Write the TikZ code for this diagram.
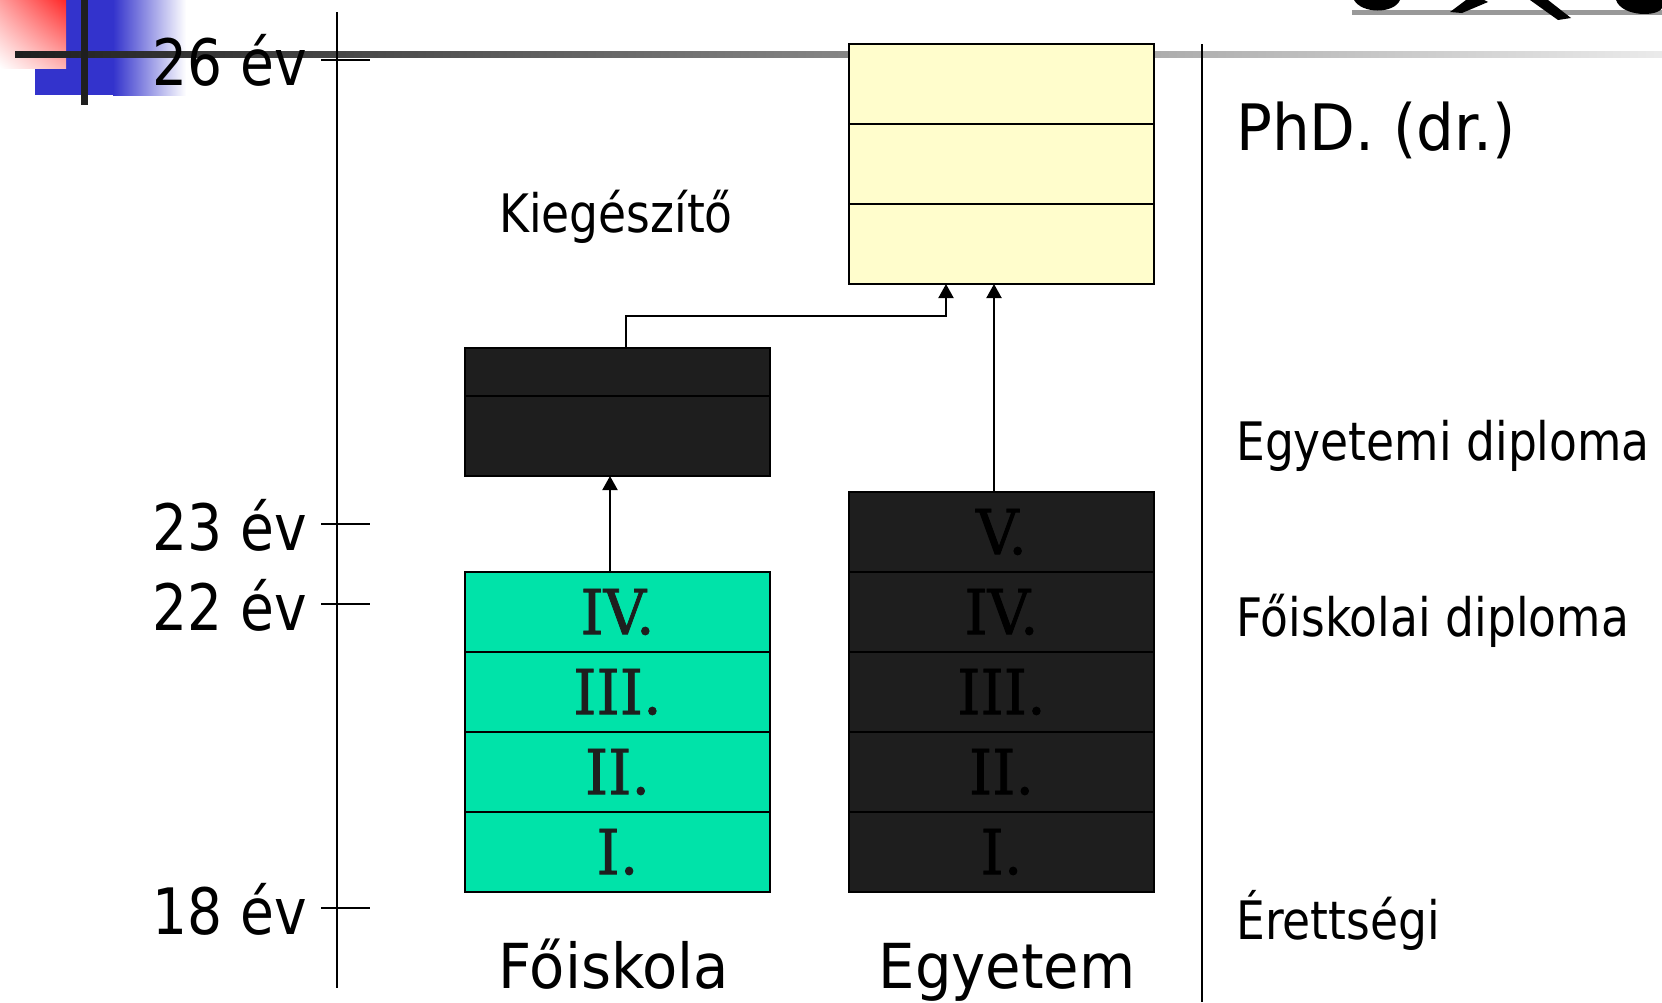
\documentclass[tikz,border=0pt]{standalone}
\usepackage{fontspec}
\setmainfont{DejaVu Sans}[FakeStretch=0.86]
\newfontfamily\widesans{DejaVu Sans}[FakeStretch=0.93]
\newfontfamily\numfont{DejaVu Serif}[FakeStretch=0.95,FakeBold=1.2]
\usetikzlibrary{arrows.meta,shadings}
\definecolor{fgreen}{RGB}{0,227,169}
\definecolor{fblack}{RGB}{30,30,30}
\definecolor{fyellow}{RGB}{255,253,204}
\definecolor{lblue}{RGB}{51,51,204}
\definecolor{lred}{RGB}{255,40,40}
\begin{document}
\begin{tikzpicture}[x=1pt,y=-1pt,
  rowbox/.style={draw=black, line width=2pt, minimum width=305pt, minimum height=80pt,
    inner sep=0pt, outer sep=0pt, font=\numfont\fontsize{62}{62}\selectfont},
  greenrow/.style={rowbox, fill=fgreen, text=fblack},
  blackrow/.style={rowbox, fill=fblack, text=black},
  yellowrow/.style={rowbox, fill=fyellow},
  agelbl/.style={inner sep=0pt, font=\fontsize{64}{70}\selectfont},
  sidelbl/.style={inner sep=0pt, font=\fontsize{53}{60}\selectfont, anchor=base west},
  captlbl/.style={inner sep=0pt, font=\widesans\fontsize{62}{66}\selectfont, anchor=base},
  tickline/.style={line width=2pt},
  arrline/.style={line width=2pt, -{Triangle[length=14pt,width=15pt]}}]
\useasboundingbox (0,0) rectangle (1662,1002);
\fill[white] (0,0) rectangle (1662,1002);
% decorations
\fill[lblue] (35,0) rectangle (114,95);
\shade[left color=lblue, right color=white] (113,0) rectangle (186,95);
\shade[upper left=lred!45, upper right=lred, lower left=white, lower right=lred!35] (0,0) rectangle (66,68);
\shade[left color=black!88, middle color=black!33, right color=black!8] (15,51) rectangle (1662,57);
\fill[black!88] (81,0) rectangle (88,105);
% top-right logo remnant
\fill[black!40] (1352,10) rectangle (1662,15);
\fill[black] (1354,0) .. controls (1362,14) and (1394,14) .. (1400,0) -- cycle;
\fill[black] (1450,12) -- (1462,13) -- (1488,2) -- (1484,0) -- (1466,0) -- cycle;
\fill[black] (1530,0) -- (1548,0) -- (1571,18) -- (1558,20) -- cycle;
\fill[black] (1616,0) .. controls (1622,17) and (1658,17) .. (1662,8) -- (1662,0) -- cycle;
% axes
\draw[tickline] (337,12) -- (337,988);
\draw[tickline] (1202,44) -- (1202,1002);
\draw[tickline] (321,60) -- (370,60);
\draw[tickline] (321,524) -- (370,524);
\draw[tickline] (321,604) -- (370,604);
\draw[tickline] (321,908) -- (370,908);
\node[agelbl, anchor=base east] (l26) at (307,85) {26 év};
\node[agelbl, anchor=base east] (l23) at (307,550) {23 év};
\node[agelbl, anchor=base east] (l22) at (307,630) {22 év};
\node[agelbl, anchor=base east] (l18) at (307,934) {18 év};
% yellow box
\node[yellowrow] (y1) at (1001.5,84) {};
\node[yellowrow] (y2) at (1001.5,164) {};
\node[yellowrow] (y3) at (1001.5,244) {};
% Kiegeszito box
\node[blackrow, minimum height=48pt] (k1) at (617.5,372) {};
\node[blackrow] (k2) at (617.5,436) {};
\node[inner sep=0pt, font=\fontsize{53}{60}\selectfont, anchor=base] (kieg) at (616,232) {Kiegészítő};
% Foiskola
\node[greenrow] (f4) at (617.5,612) {IV.};
\node[greenrow] (f3) at (617.5,692) {III.};
\node[greenrow] (f2) at (617.5,772) {II.};
\node[greenrow] (f1) at (617.5,852) {I.};
% Egyetem
\node[blackrow] (e5) at (1001.5,532) {V.};
\node[blackrow] (e4) at (1001.5,612) {IV.};
\node[blackrow] (e3) at (1001.5,692) {III.};
\node[blackrow] (e2) at (1001.5,772) {II.};
\node[blackrow] (e1) at (1001.5,852) {I.};
% connectors
\draw[arrline] ([xshift=-7.5pt]f4.north) -- ([xshift=-7.5pt]k2.south);
\coordinate (bend) at (946,316);
\draw[arrline] ([xshift=8.5pt]k1.north) |- (bend) -- (bend |- y3.south);
\draw[arrline] ([xshift=-7.5pt]e5.north) -- ([xshift=-7.5pt]y3.south);
% captions
\node[captlbl] (cf) at (614,988) {Főiskola};
\node[captlbl] (ce) at (1007,988) {Egyetem};
% side labels
\node[inner sep=0pt, font=\widesans\fontsize{64}{70}\selectfont, anchor=base west] (phd) at (1236,150) {PhD. (dr.)};
\node[sidelbl] (ed) at (1236,460) {Egyetemi diploma};
\node[sidelbl] (fd) at (1236,636) {Főiskolai diploma};
\node[sidelbl] (er) at (1236,939) {Érettségi};
\end{tikzpicture}
\end{document}
